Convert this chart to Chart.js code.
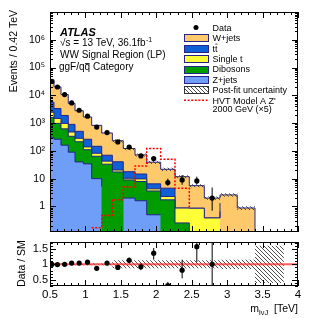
<!DOCTYPE html>
<html>
<head>
<meta charset="utf-8">
<script src="https://cdn.jsdelivr.net/npm/chart.js@4.4.1/dist/chart.umd.min.js"></script>
<style>
  html, body { margin: 0; padding: 0; background: #fff; overflow: hidden; }
  #wrap { position: relative; width: 332px; height: 319px; }
  canvas { position: absolute; left: 0; }
</style>
</head>
<body>
<div id="wrap">
  <canvas id="mainChart" width="332" height="238" style="top:0px"></canvas>
  <canvas id="ratioChart" width="332" height="81" style="top:238px"></canvas>
</div>
<script>
// m_lvJ bin edges (TeV)
const binEdges = [0.5, 0.556, 0.655, 0.758, 0.853, 0.97, 1.088, 1.23, 1.38, 1.534, 1.70, 1.865, 2.062, 2.264, 2.466, 2.678, 2.899, 3.143, 3.393, 3.8, 4.0];

// backgrounds (events per bin)
const wjets     = [25980, 16750, 8716, 4221, 2285, 1398, 683, 370, 192, 104, 57, 32.5, 17.2, 10.9, 4.74, 1.61, 1.28, 0.88, 0.05, 0];
const ttbar     = [3150, 1878, 909, 422, 221, 123, 64, 27, 20, 7.5, 4.9, 2.2, 2.26, 0, 0, 0, 0.66, 0, 0, 0];
const singleTop = [872, 497, 354, 142, 71, 29, 18, 9.5, 3.1, 1.3, 1.9, 0.7, 0.55, 0.62, 0.76, 0.385, 0.37, 0, 0, 0];
const dibosons  = [1291, 713, 461, 245, 173, 76, 54, 28, 17.4, 7.0, 6.3, 3.1, 1.22, 0.255, 0.1, 0, 0.29, 0, 0, 0];
const zjets     = [308, 262, 160, 90, 40, 34, 10, 5.2, 0, 2.0, 1.6, 0.5, 0.51, 0, 0, 0, 0, 0, 0, 0];
// relative post-fit uncertainty
const postFitUnc = [0.03, 0.03, 0.03, 0.03, 0.03, 0.03, 0.03, 0.03, 0.13, 0.13, 0.13, 0.13, 0.13, 0.13, 0.13, 0.13, 0.15, 0.15, 0.6, 0];
// HVT Model A Z' 2000 GeV (x5)
const hvtZprime = [0, 0, 0, 0, 0, 0, 0.17, 0.47, 1.74, 5.0, 28.5, 122, 49.5, 4.5, 0.8, 0, 0, 0, 0, 0];

// data
const dataVals  = [31600, 19900, 10600, 5330, 2900, 1780, 720, 455, 210, 138, 66, 53, 7.2, 9, 8.3, 2];
const dataErrUp = [180, 140, 100, 73, 54, 42, 27, 21, 15, 12, 8, 7.5, 2.8, 4.5, 3.5, 2.8];
const dataErrDn = [180, 140, 100, 73, 54, 42, 27, 21, 14, 11.5, 8, 7, 1.7, 3, 2, 1.3];

// data / SM
const ratioVals  = [1.0, 0.99, 1.0, 1.04, 1.04, 1.07, 0.87, 1.04, 0.9, 1.13, 0.92, 1.36, 0.31, 0.81, 1.57, 1.0];
const ratioErrUp = [0.01, 0.01, 0.015, 0.02, 0.025, 0.03, 0.04, 0.05, 0.07, 0.09, 0.11, 0.17, 0.12, 0.34, 0.35, 2.0];
const ratioErrDn = [0.01, 0.01, 0.015, 0.02, 0.025, 0.03, 0.04, 0.05, 0.07, 0.09, 0.11, 0.21, 0.1, 0.26, 0.5, 1.0];

// ticks
const mainYTicks  = [1, 10, 100, 1e3, 1e4, 1e5, 1e6];
const mainYLabels = ['1', '10', '10²', '10³', '10⁴', '10⁵', '10⁶'];
const ratioYTicks  = [0.5, 1, 1.5];
const ratioYLabels = ['0.5', '1', '1.5'];
const xTicks  = [0.5, 1, 1.5, 2, 2.5, 3, 3.5, 4];
const xLabels = ['0.5', '1', '1.5', '2', '2.5', '3', '3.5', '4'];

const FONT = '"Liberation Sans", Arial, Helvetica, sans-serif';
const LINE = '#25258a';
const colW = '#fdc96b', colTt = '#0f5fd6', colSt = '#ffff38', colDib = '#009c00', colZ = '#6f9ef8';

const nBins = binEdges.length - 1;
const centers = binEdges.slice(0, -1).map((e, i) => (e + binEdges[i + 1]) / 2);

function stepPoints(vals) {
  const pts = vals.map((v, i) => ({ x: binEdges[i], y: v }));
  pts.push({ x: binEdges[vals.length], y: vals[vals.length - 1] });
  return pts;
}

// cumulative stack, bottom (Z+jets) first
const layers = [zjets, dibosons, singleTop, ttbar, wjets];
const cum = [];
let run = new Array(nBins).fill(0);
layers.forEach(l => { run = run.map((v, i) => v + l[i]); cum.push(run); });
const total = cum[cum.length - 1];

function makeHatch() {
  const c = document.createElement('canvas');
  c.width = 4; c.height = 4;
  const g = c.getContext('2d');
  g.strokeStyle = '#3a3a3a';
  g.lineWidth = 0.9;
  g.beginPath();
  g.moveTo(-1, -1); g.lineTo(5, 5);
  g.moveTo(-1, 3); g.lineTo(1, 5);
  g.moveTo(3, -1); g.lineTo(5, 1);
  g.stroke();
  return g.createPattern(c, 'repeat');
}
const hatch = makeHatch();

function stackSet(vals, color, order) {
  return { data: stepPoints(vals), stepped: true, fill: 'start', backgroundColor: color,
           borderColor: LINE, borderWidth: 1, pointRadius: 0, order: order };
}

function drawFrame(chart, xStep, yTickList) {
  const { ctx, chartArea: a, scales: { x } } = chart;
  ctx.save();
  ctx.strokeStyle = '#000';
  ctx.lineWidth = 1;
  ctx.beginPath();
  for (let i = 5; i <= 40; i++) {
    const px = Math.round(x.getPixelForValue(i / 10)) + 0.5;
    const len = i % 5 === 0 ? 6 : 3;
    ctx.moveTo(px, a.bottom); ctx.lineTo(px, a.bottom - len);
    ctx.moveTo(px, a.top); ctx.lineTo(px, a.top + len);
  }
  yTickList.forEach(t => {
    const py = Math.round(chart.scales.y.getPixelForValue(t.v)) + 0.5;
    const len = t.major ? 6 : 3;
    ctx.moveTo(a.left, py); ctx.lineTo(a.left + len, py);
    ctx.moveTo(a.right, py); ctx.lineTo(a.right - len, py);
  });
  ctx.stroke();
  ctx.strokeRect(a.left + 0.5, a.top + 0.5, a.right - a.left - 1, a.bottom - a.top - 1);
  ctx.restore();
}

function drawErrors(chart, xs, ys, up, dn) {
  const { ctx, chartArea: a, scales: { x, y } } = chart;
  ctx.save();
  ctx.beginPath();
  ctx.rect(a.left, a.top, a.right - a.left, a.bottom - a.top);
  ctx.clip();
  ctx.strokeStyle = '#000';
  ctx.lineWidth = 1;
  ctx.beginPath();
  ys.forEach((v, i) => {
    const px = x.getPixelForValue(xs[i]);
    ctx.moveTo(px, y.getPixelForValue(v + up[i]));
    ctx.lineTo(px, y.getPixelForValue(Math.max(v - dn[i], 1e-6)));
  });
  ctx.stroke();
  ctx.restore();
}

// ---------- main panel ----------
const mainYTickList = [];
for (let d = -1; d <= 6; d++) {
  for (let k = 1; k <= 9; k++) {
    const v = k * Math.pow(10, d);
    if (v >= 0.12 && v <= 1e7) mainYTickList.push({ v: v, major: k === 1 });
  }
}

const mainTextPlugin = {
  id: 'mainText',
  afterDatasetsDraw(chart) {
    drawErrors(chart, centers, dataVals, dataErrUp, dataErrDn);
  },
  afterDraw(chart) {
    const ctx = chart.ctx;
    drawFrame(chart, 0.1, mainYTickList);
    ctx.save();
    ctx.fillStyle = '#000';
    // y title
    ctx.save();
    ctx.translate(14, 10);
    ctx.rotate(-Math.PI / 2);
    ctx.font = '10.5px ' + FONT;
    ctx.textAlign = 'right';
    ctx.textBaseline = 'middle';
    ctx.fillText('Events / 0.42 TeV', 0, 0);
    ctx.restore();

    // ATLAS label block
    ctx.textAlign = 'left';
    ctx.textBaseline = 'alphabetic';
    ctx.font = 'italic bold 11px ' + FONT;
    ctx.fillText('ATLAS', 60, 35.5);
    ctx.font = '10px ' + FONT;
    ctx.fillText('√s = 13 TeV, 36.1fb', 60, 45.5);
    let w = ctx.measureText('√s = 13 TeV, 36.1fb').width;
    ctx.font = '7px ' + FONT;
    ctx.fillText('-1', 60 + w + 0.5, 41.5);
    ctx.font = '10px ' + FONT;
    ctx.fillText('WW Signal Region (LP)', 60, 58);
    ctx.fillText('ggF/qq Category', 59, 70);
    const q1 = ctx.measureText('ggF/q').width, q2 = ctx.measureText('ggF/qq').width;
    ctx.fillRect(59 + q1 + 0.5, 63.2, q2 - q1 - 1, 0.8);

    // legend
    const bx = 184, bw = 24, bh = 7, tx = 212.5;
    const rows = [
      { label: 'Data', kind: 'data' },
      { label: 'W+jets', kind: 'box', color: colW },
      { label: 'tt', kind: 'box', color: colTt, bar: true },
      { label: 'Single t', kind: 'box', color: colSt },
      { label: 'Dibosons', kind: 'box', color: colDib },
      { label: 'Z+jets', kind: 'box', color: colZ },
      { label: 'Post-fit uncertainty', kind: 'hatch' },
      { label: "HVT Model A Z'", kind: 'dash' }
    ];
    ctx.font = '9px ' + FONT;
    rows.forEach((r, i) => {
      const cy = 27.5 + i * 10.4;
      if (r.kind === 'data') {
        ctx.beginPath();
        ctx.arc(bx + bw / 2, cy, 2.5, 0, Math.PI * 2);
        ctx.fill();
      } else if (r.kind === 'box' || r.kind === 'hatch') {
        const y0 = Math.round(cy - bh / 2) + 0.5;
        ctx.fillStyle = r.kind === 'hatch' ? '#fff' : r.color;
        ctx.fillRect(bx + 0.5, y0, bw, bh);
        if (r.kind === 'hatch') { ctx.fillStyle = hatch; ctx.fillRect(bx + 0.5, y0, bw, bh); }
        ctx.strokeStyle = r.kind === 'hatch' ? '#333' : LINE;
        ctx.lineWidth = 1;
        ctx.strokeRect(bx + 0.5, y0, bw, bh);
        ctx.fillStyle = '#000';
      } else if (r.kind === 'dash') {
        ctx.save();
        ctx.strokeStyle = '#ff0000';
        ctx.lineWidth = 1.5;
        ctx.setLineDash([2, 1.6]);
        ctx.beginPath();
        ctx.moveTo(bx, cy); ctx.lineTo(bx + bw, cy);
        ctx.stroke();
        ctx.restore();
      }
      ctx.fillStyle = '#000';
      ctx.fillText(r.label, tx, cy + 3.2);
      if (r.bar) {
        const t1 = ctx.measureText('t').width;
        ctx.fillRect(tx + t1 + 0.3, cy - 4.6, t1 - 0.3, 0.7);
      }
    });
    ctx.fillText('2000 GeV (×5)', tx, 27.5 + 7 * 10.4 + 8.3 + 3.2);
    ctx.restore();
  }
};

const mainDatasets = [
  stackSet(cum[4], colW, 10),
  stackSet(cum[3], colTt, 9),
  stackSet(cum[2], colSt, 8),
  stackSet(cum[1], colDib, 7),
  stackSet(cum[0], colZ, 6),
  { data: stepPoints(total.map((t, i) => t * (1 - postFitUnc[i]))), stepped: true, fill: false,
    borderColor: 'rgba(0,0,0,0)', borderWidth: 1, pointRadius: 0, order: 5 },
  { data: stepPoints(total.map((t, i) => t * (1 + postFitUnc[i]))), stepped: true, fill: 5,
    backgroundColor: hatch, borderColor: 'rgba(0,0,0,0)', borderWidth: 1, pointRadius: 0, order: 4 },
  { data: stepPoints(hvtZprime), stepped: true, fill: false, borderColor: '#ff0000',
    borderWidth: 1.5, borderDash: [2, 1.6], pointRadius: 0, order: 2 },
  { data: dataVals.map((v, i) => ({ x: centers[i], y: v })), showLine: false, pointRadius: 2.6,
    pointBackgroundColor: '#000', pointBorderColor: '#000', pointBorderWidth: 0, order: 1 }
];

new Chart(document.getElementById('mainChart'), {
  type: 'line',
  data: { datasets: mainDatasets },
  options: {
    responsive: false,
    animation: false,
    events: [],
    layout: { padding: { left: 0, right: 34, top: 12, bottom: 6 } },
    plugins: { legend: { display: false }, tooltip: { enabled: false } },
    scales: {
      x: { type: 'linear', min: 0.5, max: 4, display: false },
      y: {
        type: 'logarithmic', min: 0.12, max: 1e7,
        afterBuildTicks: s => { s.ticks = mainYTicks.map(v => ({ value: v })); },
        afterFit: s => { s.width = 50; s.paddingTop = 0; s.paddingBottom = 0; },
        grid: { display: false, drawTicks: false },
        border: { display: false },
        ticks: {
          callback: (v, i) => mainYLabels[i],
          font: { family: FONT, size: 10.5 }, color: '#000', padding: 5, autoSkip: false
        }
      }
    }
  },
  plugins: [mainTextPlugin]
});

// ---------- ratio panel ----------
const ratioYTickList = [];
for (let i = 3; i <= 17; i++) ratioYTickList.push({ v: i / 10, major: i % 5 === 0 });

const ratioTextPlugin = {
  id: 'ratioText',
  afterDatasetsDraw(chart) {
    drawErrors(chart, centers, ratioVals, ratioErrUp, ratioErrDn);
  },
  afterDraw(chart) {
    const ctx = chart.ctx;
    drawFrame(chart, 0.1, ratioYTickList);
    ctx.save();
    ctx.fillStyle = '#000';
    ctx.save();
    ctx.translate(22, 25.5);
    ctx.rotate(-Math.PI / 2);
    ctx.font = '10.5px ' + FONT;
    ctx.textAlign = 'center';
    ctx.textBaseline = 'middle';
    ctx.fillText('Data / SM', 0, 0);
    ctx.restore();

    // x title m_lvJ [TeV], right aligned
    const base = 74;
    ctx.font = '10.5px ' + FONT;
    const wm = ctx.measureText('m').width;
    const wt = ctx.measureText('  [TeV]').width;
    ctx.font = '7.5px ' + FONT;
    const ws = ctx.measureText('lνJ').width;
    let x0 = 298 - (wm + ws + wt);
    ctx.font = '10.5px ' + FONT;
    ctx.fillText('m', x0, base);
    ctx.font = '7.5px ' + FONT;
    ctx.fillText('lνJ', x0 + wm, base + 2.5);
    ctx.font = '10.5px ' + FONT;
    ctx.fillText('  [TeV]', x0 + wm + ws, base);
    ctx.restore();
  }
};

const ratioDatasets = [
  { data: stepPoints(postFitUnc.map(u => 1 - u)), stepped: true, fill: false,
    borderColor: 'rgba(0,0,0,0)', borderWidth: 1, pointRadius: 0, order: 5 },
  { data: stepPoints(postFitUnc.map(u => 1 + u)), stepped: true, fill: 0,
    backgroundColor: hatch, borderColor: 'rgba(0,0,0,0)', borderWidth: 1, pointRadius: 0, order: 4 },
  { data: [{ x: 0.5, y: 1 }, { x: 4, y: 1 }], fill: false, borderColor: 'rgba(255,40,40,0.75)',
    borderWidth: 2, pointRadius: 0, order: 2 },
  { data: ratioVals.map((v, i) => ({ x: centers[i], y: v })), showLine: false, pointRadius: 2.6,
    pointBackgroundColor: '#000', pointBorderColor: '#000', pointBorderWidth: 0, order: 1 }
];

new Chart(document.getElementById('ratioChart'), {
  type: 'line',
  data: { datasets: ratioDatasets },
  options: {
    responsive: false,
    animation: false,
    events: [],
    layout: { padding: { left: 0, right: 34, top: 3, bottom: 0 } },
    plugins: { legend: { display: false }, tooltip: { enabled: false } },
    scales: {
      x: {
        type: 'linear', min: 0.5, max: 4,
        afterBuildTicks: s => { s.ticks = xTicks.map(v => ({ value: v })); },
        afterFit: s => { s.height = 33; s.paddingLeft = 0; s.paddingRight = 0; },
        grid: { display: false, drawTicks: false },
        border: { display: false },
        ticks: {
          callback: (v, i) => xLabels[i],
          font: { family: FONT, size: 11.5 }, color: '#000', padding: 2,
          maxRotation: 0, autoSkip: false
        }
      },
      y: {
        type: 'linear', min: 0.3, max: 1.72,
        afterBuildTicks: s => { s.ticks = ratioYTicks.map(v => ({ value: v })); },
        afterFit: s => { s.width = 50; s.paddingTop = 0; s.paddingBottom = 0; },
        grid: { display: false, drawTicks: false },
        border: { display: false },
        ticks: {
          callback: (v, i) => ratioYLabels[i],
          font: { family: FONT, size: 11 }, color: '#000', padding: 2, autoSkip: false
        }
      }
    }
  },
  plugins: [ratioTextPlugin]
});
</script>
</body>
</html>
